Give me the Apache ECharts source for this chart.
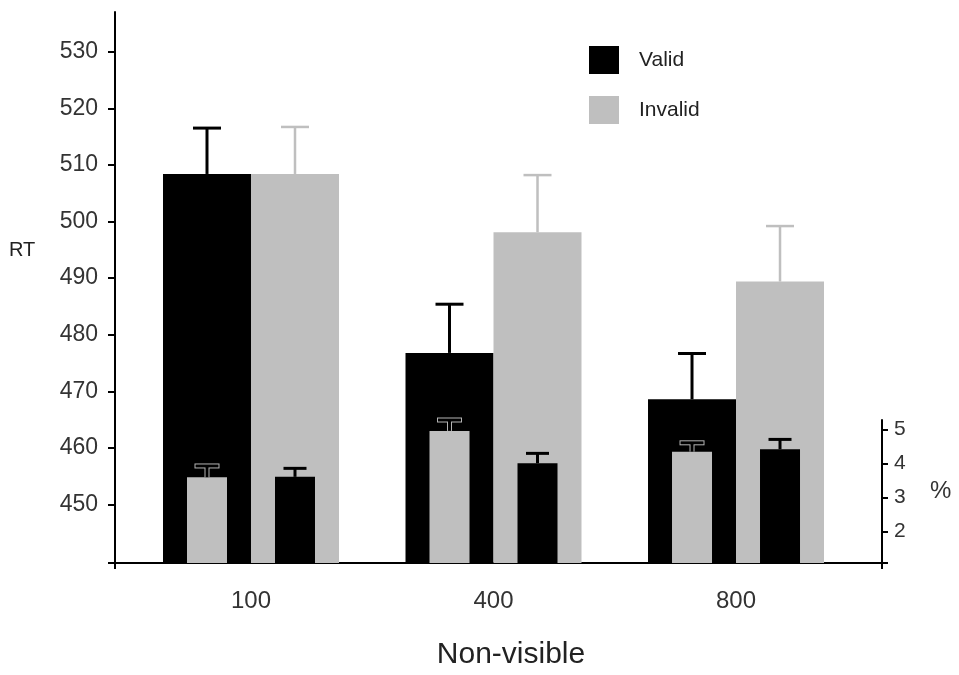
<!DOCTYPE html>
<html>
<head>
<meta charset="utf-8">
<script src="https://cdn.jsdelivr.net/npm/echarts@6/dist/echarts.min.js"></script>
<style>html,body{margin:0;padding:0;background:#fff}#c{width:959px;height:675px}</style>
</head>
<body>
<div id="c"></div>
<script>
// ---- data ----
const conditions = ['100', '400', '800'];
const positions = [0, 1, 2];
const rtValid = [508.4, 476.8, 468.6];
const rtValidErr = [8.1, 8.6, 8.1];
const rtInvalid = [508.4, 498.1, 489.4];
const rtInvalidErr = [8.3, 10.1, 9.8];
const pctValid = [3.60, 4.96, 4.35];
const pctValidErr = [0.33, 0.32, 0.26];
const pctInvalid = [3.61, 4.01, 4.42];
const pctInvalidErr = [0.25, 0.29, 0.29];
const rtTicks = [450, 460, 470, 480, 490, 500, 510, 520, 530];
const pctTicks = [2, 3, 4, 5];

// ---- axis ranges ----
const rtMin = 439.7, rtMax = 537.0;
const pctMin = 1.08, pctMax = 5.28;
const xMin = -0.5608, xMax = 2.602;

const FONT = 'Liberation Sans, Arial, sans-serif';
const BLACK = '#000000';
const GRAY = '#bfbfbf';
const BIG_W = 88, SMALL_W = 40;

function errorSeries(name, xi, yi, means, errs, offset, color, lw, capW, z, halo) {
  return {
    type: 'custom', name: name, xAxisIndex: xi, yAxisIndex: yi, z: z, silent: true, clip: false,
    data: positions.map((p, i) => [p, means[i], means[i] + errs[i]]),
    encode: { x: 0, y: [1, 2] },
    renderItem: function (params, api) {
      const b = api.coord([api.value(0), api.value(1)]);
      const t = api.coord([api.value(0), api.value(2)]);
      const x = b[0] + offset;
      const children = [];
      if (halo) {
        children.push(
          { type: 'line', shape: { x1: x, y1: b[1], x2: x, y2: t[1] }, style: { stroke: halo, lineWidth: lw + 2 } },
          { type: 'line', shape: { x1: x - capW / 2 - 1, y1: t[1], x2: x + capW / 2 + 1, y2: t[1] }, style: { stroke: halo, lineWidth: lw + 2 } }
        );
      }
      children.push(
        { type: 'line', shape: { x1: x, y1: b[1], x2: x, y2: t[1] }, style: { stroke: color, lineWidth: lw } },
        { type: 'line', shape: { x1: x - capW / 2, y1: t[1], x2: x + capW / 2, y2: t[1] }, style: { stroke: color, lineWidth: lw } }
      );
      return { type: 'group', children: children };
    }
  };
}

const chart = echarts.init(document.getElementById('c'), null, { renderer: 'canvas' });
const option = {
  animation: false,
  backgroundColor: '#ffffff',
  textStyle: { fontFamily: FONT },
  title: {
    text: 'RT', left: 9, top: 240, padding: 0,
    textStyle: { fontSize: 20, fontWeight: 'normal', color: '#222', fontFamily: FONT }
  },
  legend: {
    data: ['Valid', 'Invalid'],
    orient: 'vertical',
    left: 589, top: 46, padding: 0,
    itemWidth: 30, itemHeight: 28, itemGap: 22,
    icon: 'rect',
    selectedMode: false,
    textStyle: { fontSize: 21, color: '#222', fontFamily: FONT, padding: [0, 0, 0, 15] }
  },
  grid: [
    { left: 115, right: 77, top: 12, bottom: 112, outerBoundsMode: 'none', containLabel: false },
    { left: 115, right: 77, top: 420, bottom: 112, outerBoundsMode: 'none', containLabel: false }
  ],
  xAxis: [
    {
      type: 'value', gridIndex: 0, min: xMin, max: xMax,
      splitLine: { show: false },
      axisLine: { show: true, onZero: false, lineStyle: { color: '#000', width: 2 } },
      axisTick: { show: true, length: 6, lineStyle: { color: '#000', width: 2 }, customValues: [xMin, xMax] },
      axisLabel: {
        show: true, customValues: positions, margin: 26,
        fontSize: 24, color: '#333', fontFamily: FONT,
        formatter: v => conditions[Math.round(v)]
      },
      name: 'Non-visible', nameLocation: 'middle', nameGap: 77, nameMoveOverlap: false,
      nameTextStyle: { fontSize: 30, color: '#222', fontFamily: FONT, padding: [0, 0, 0, 25] }
    },
    {
      type: 'value', gridIndex: 1, min: xMin, max: xMax, show: false,
      axisLine: { onZero: false },
      splitLine: { show: false }
    }
  ],
  yAxis: [
    {
      type: 'value', gridIndex: 0, position: 'left', min: rtMin, max: rtMax,
      splitLine: { show: false },
      axisLine: { show: true, onZero: false, lineStyle: { color: '#000', width: 2 } },
      axisTick: { show: true, length: 7, lineStyle: { color: '#000', width: 2 }, customValues: [rtMin].concat(rtTicks) },
      axisLabel: { show: true, customValues: rtTicks, margin: 17, fontSize: 23, color: '#333', fontFamily: FONT }
    },
    {
      type: 'value', gridIndex: 1, position: 'right', min: pctMin, max: pctMax,
      splitLine: { show: false },
      axisLine: { show: true, onZero: false, lineStyle: { color: '#000', width: 2 } },
      axisTick: { show: true, length: 6, lineStyle: { color: '#000', width: 2 }, customValues: [pctMin].concat(pctTicks) },
      axisLabel: { show: true, customValues: pctTicks, margin: 12, fontSize: 21, color: '#333', fontFamily: FONT },
      name: '%', nameLocation: 'middle', nameRotate: 0, nameGap: 48, nameMoveOverlap: false,
      nameTextStyle: { fontSize: 24, color: '#333', fontFamily: FONT }
    }
  ],
  series: [
    {
      type: 'bar', name: 'Valid', xAxisIndex: 0, yAxisIndex: 0, z: 2,
      barWidth: BIG_W, barGap: '0%',
      itemStyle: { color: BLACK },
      data: positions.map((p, i) => [p, rtValid[i]])
    },
    {
      type: 'bar', name: 'Invalid', xAxisIndex: 0, yAxisIndex: 0, z: 2,
      barWidth: BIG_W, barGap: '0%',
      itemStyle: { color: GRAY },
      data: positions.map((p, i) => [p, rtInvalid[i]])
    },
    errorSeries('Valid RT SE', 0, 0, rtValid, rtValidErr, -BIG_W / 2, BLACK, 3, 28, 3, null),
    errorSeries('Invalid RT SE', 0, 0, rtInvalid, rtInvalidErr, BIG_W / 2, GRAY, 2.5, 28, 3, null),
    {
      type: 'bar', name: 'Valid %', xAxisIndex: 1, yAxisIndex: 1, z: 4,
      barWidth: SMALL_W, barGap: '120%',
      itemStyle: { color: GRAY },
      data: positions.map((p, i) => [p, pctValid[i]])
    },
    {
      type: 'bar', name: 'Invalid %', xAxisIndex: 1, yAxisIndex: 1, z: 4,
      barWidth: SMALL_W, barGap: '120%',
      itemStyle: { color: BLACK },
      data: positions.map((p, i) => [p, pctInvalid[i]])
    },
    errorSeries('Valid % SE', 1, 1, pctValid, pctValidErr, -BIG_W / 2, BLACK, 3, 23, 5, '#b4b4b4'),
    errorSeries('Invalid % SE', 1, 1, pctInvalid, pctInvalidErr, BIG_W / 2, BLACK, 3, 23, 5, null)
  ]
};
chart.setOption(option);
</script>
</body>
</html>
